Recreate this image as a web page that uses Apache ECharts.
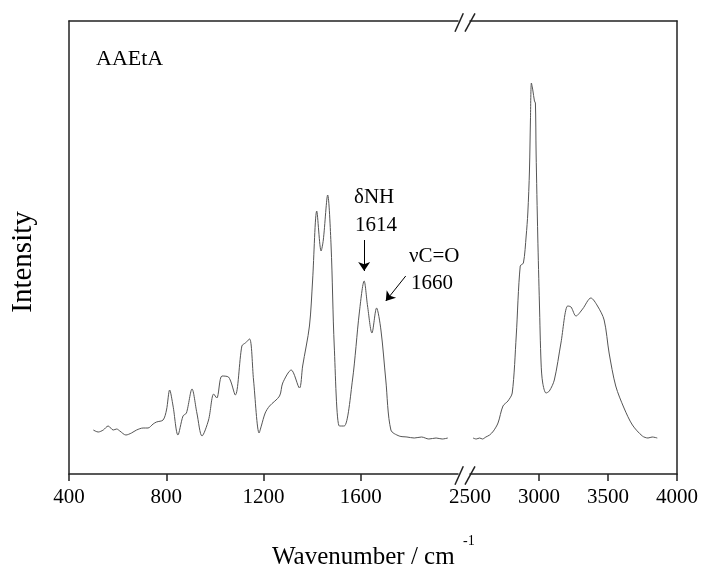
<!DOCTYPE html>
<html>
<head>
<meta charset="utf-8">
<script src="https://cdn.jsdelivr.net/npm/echarts@6/dist/echarts.min.js"></script>
<style>html,body{margin:0;padding:0;background:#fff;}#c{width:702px;height:567px;}</style>
</head>
<body>
<div id="c"></div>
<script>
// ---- data (intensity in arbitrary units) ----
const leftWavenumber = [500,520,541,561,582,596,609,634,657,678,705,725,746,760,787,801,814,828,848,869,883,906,926,947,974,995,1008,1029,1056,1084,1111,1125,1143,1159,1182,1191,1207,1225,1266,1279,1314,1348,1361,1389,1402,1419,1437,1446,1464,1478,1491,1512,1532,1566,1594,1614,1628,1646,1665,1683,1703,1724,1758,1790,1820,1850,1880,1910,1935,1958];
const leftIntensity  = [44,42,44,48,44,45,43,39,41,44,46,46,50,52,54,64,84,68,39,58,61,85,61,38,54,80,76,98,97,79,128,131,135,94,41,48,61,68,78,91,104,86,108,148,194,263,223,234,279,228,128,48,48,94,161,193,168,141,166,144,94,44,38,37,36,37,35,36,35,36];
const rightWavenumber = [2522,2545,2570,2590,2615,2642,2670,2703,2739,2775,2806,2835,2864,2887,2907,2919,2931,2938,2945,2955,2967,2974,2979,2991,3003,3015,3027,3051,3075,3111,3159,3208,3232,3268,3316,3376,3424,3472,3508,3556,3616,3677,3749,3790,3820,3857];
const rightIntensity  = [36,35,36,35,37,39,43,51,68,73,81,138,208,211,238,261,304,354,391,384,373,371,321,238,171,111,91,81,83,94,131,168,167,158,165,176,168,154,121,88,66,49,38,36,37,36];
const leftTickLabels  = [400,800,1200,1600];
const rightTickLabels = [2500,3000,3500,4000];
const rightTickMarks  = [3000,3500,4000];
// annotation arrows [fromWavenumber, fromIntensity, toWavenumber, toIntensity]
const arrowNH = [1614,234,1614,203];
const arrowCO = [1785,198,1703,173];

const leftData = leftWavenumber.map((w,i)=>[w,leftIntensity[i]]);
const rightData = rightWavenumber.map((w,i)=>[w,rightIntensity[i]]);

const FONT = '"Liberation Serif", "Times New Roman", serif';
const AX = {color:'#222', width:1.5};
const chart = echarts.init(document.getElementById('c'), null, {renderer:'canvas'});

function bottomAxis(grid, min, max, ticks, labels){
  return {
    type:'value', gridIndex:grid, min:min, max:max, position:'bottom',
    axisLine:{show:true, onZero:false, lineStyle:AX},
    axisTick:{show:true, inside:false, length:7, customValues:ticks, lineStyle:AX},
    axisLabel:{show:true, customValues:labels, formatter:(v)=>String(v), fontFamily:FONT, fontSize:21, color:'#000', margin:13},
    splitLine:{show:false}
  };
}
function frameAxis(grid, pos, isY){
  return {
    type:'value', gridIndex:grid, position:pos,
    min:0, max: isY ? 453 : 1,
    axisLine:{show:true, onZero:false, lineStyle:AX},
    axisTick:{show:false}, axisLabel:{show:false}, splitLine:{show:false}
  };
}

const slash = (x1,y1,x2,y2)=>({type:'line', shape:{x1,y1,x2,y2}, style:{stroke:'#222', lineWidth:1.5}});
const txt = (text,x,y,size,align,extra)=>Object.assign({type:'text', x, y, style:{text, fontFamily:FONT, fontSize:size, fill:'#000', align:align||'left', verticalAlign:'middle'}}, extra||{});

chart.setOption({
  animation:false,
  backgroundColor:'#fff',
  grid:[
    {left:69, top:21, width:389, height:453},
    {left:470, top:21, width:207, height:453}
  ],
  xAxis:[
    bottomAxis(0, 400, 2000, leftTickLabels, leftTickLabels),
    bottomAxis(1, 2500, 4000, rightTickMarks, rightTickLabels),
    frameAxis(0,'top',false),
    frameAxis(1,'top',false)
  ],
  yAxis:[
    frameAxis(0,'left',true),
    frameAxis(1,'right',true)
  ],
  series:[
    {type:'line', xAxisIndex:0, yAxisIndex:0, data:leftData, showSymbol:false, smooth:0.3,
     lineStyle:{color:'#555', width:1}, silent:true,
     markLine:{silent:true, symbol:['none','arrow'], symbolSize:9, label:{show:false},
       lineStyle:{color:'#000', width:1, type:'solid'},
       data:[
         [{coord:[arrowNH[0],arrowNH[1]]},{coord:[arrowNH[2],arrowNH[3]]}],
         [{coord:[arrowCO[0],arrowCO[1]]},{coord:[arrowCO[2],arrowCO[3]]}]
       ]}},
    {type:'line', xAxisIndex:1, yAxisIndex:1, data:rightData, showSymbol:false, smooth:0.3,
     lineStyle:{color:'#555', width:1}, silent:true}
  ],
  graphic:[
    slash(455,31.7,463.3,13.3), slash(465,31.7,475,13.3),
    slash(455,484.7,463.3,466.3), slash(465,484.7,475,466.3),
    txt('AAEtA',96,59,22),
    txt('δNH',354,197,21),
    txt('1614',355,225,21),
    txt('νC=O',409,256,21),
    txt('1660',411,283,21),
    txt('Wavenumber / cm',272,557,25),
    txt('-1',463,541,14),
    txt('Intensity',23,262,29,'center',{rotation:Math.PI/2})
  ]
});
</script>
</body>
</html>
